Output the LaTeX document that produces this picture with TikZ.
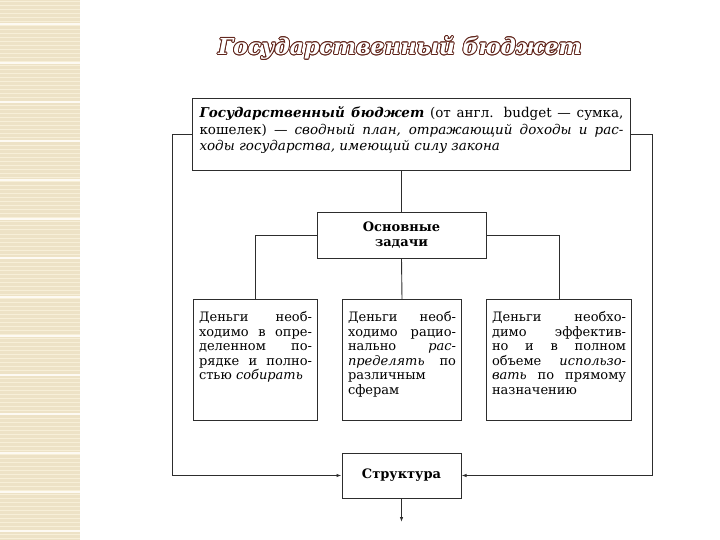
\documentclass[tikz,border=0pt]{standalone}
\usepackage{fontspec}
\setmainfont{DejaVu Serif}
\usepackage{tikz}
\usetikzlibrary{arrows.meta}
\definecolor{frm}{RGB}{45,45,45}
\definecolor{ttl}{RGB}{95,35,25}
\definecolor{strip}{RGB}{237,226,198}
\definecolor{stripl}{RGB}{247,239,216}
\tikzset{
  bx/.style={draw=frm,line width=1pt,anchor=north west,inner xsep=5.5pt,inner ysep=0pt,
    align=justify,font=\fontsize{13}{14.5}\selectfont},
  topv/.style 2 args={execute at begin node={\vbox to #1\bgroup\vskip #2\noindent},
    execute at end node={\par\vfil\egroup}},
  hd/.style={draw=frm,line width=1pt,align=center,font=\fontsize{13}{15}\selectfont\bfseries},
  ln/.style={frm,line width=0.9pt},
  arr/.style={ln,-{Latex[length=5pt,width=3.5pt]}},
  ttlf/.style={font=\fontsize{22}{24}\selectfont\bfseries\itshape}
}
\begin{document}
\begin{tikzpicture}[x=1pt,y=-1pt]
\useasboundingbox (0,0) rectangle (720,540);
% left strip
\fill[strip] (0,0) rectangle (80,540);
\foreach \y in {2,6,...,540} \draw[stripl,line width=1pt] (0,\y) -- (80,\y);
\foreach \y in {24,63,...,540} \draw[white!70!stripl,line width=1.6pt] (0,\y) -- (80,\y);
% title
\foreach \a in {0,30,...,330}
  \node[ttlf,text=ttl] (sh\a) at ([shift={(\a:0.9pt)}]400,48) {Государственный бюджет};
\node[ttlf,text=white] (title) at (400,48) {Государственный бюджет};
% boxes
\node[bx,text width=424pt,inner xsep=7pt,topv={72pt}{8pt},font=\fontsize{13.5}{16.5}\selectfont] (def) at (192,98)
  {\textbf{\textit{Государственный бюджет}} (от англ. budget — сумка,\linebreak кошелек) — \textit{сводный план, отражающий доходы и рас-\linebreak ходы государства, имеющий силу закона}};
\node[hd,minimum width=169pt,minimum height=45pt] (tasks) at (401.5,235.5) {Основные\\задачи};
\node[bx,text width=113pt,topv={121pt}{12pt}] (m1) at (193,299)
  {Деньги необ-\linebreak ходимо в опре-\linebreak деленном по-\linebreak рядке и полно-\linebreak стью \textit{собирать}};
\node[bx,text width=108pt,topv={121pt}{12pt}] (m2) at (342,299)
  {Деньги необ-\linebreak ходимо рацио-\linebreak нально \textit{рас-}\linebreak \textit{пределять} по\linebreak различным\\ сферам};
\node[bx,text width=134pt,topv={121pt}{12pt}] (m3) at (486,299)
  {Деньги необхо-\linebreak димо эффектив-\linebreak но и в полном\linebreak объеме \textit{использо-}\linebreak \textit{вать} по прямому\linebreak назначению};
\node[hd,minimum width=119pt,minimum height=45pt] (struct) at (401.5,475.5) {Структура};
\coordinate (out) at (401.5,522);
% links
\draw[ln] (def.south -| tasks.north) -- (tasks.north);
\draw[ln] (tasks.west) -| (m1.north);
\draw[ln] (tasks.south) -- (m2.north);
\draw[ln] (tasks.east) -| (m3.north);
\draw[arr] (def.west) -- ++(-20pt,0) |- (struct.west);
\draw[arr] (def.east) -- ++(21pt,0) |- (struct.east);
\draw[arr] (struct.south) -- (out);
\end{tikzpicture}
\end{document}
